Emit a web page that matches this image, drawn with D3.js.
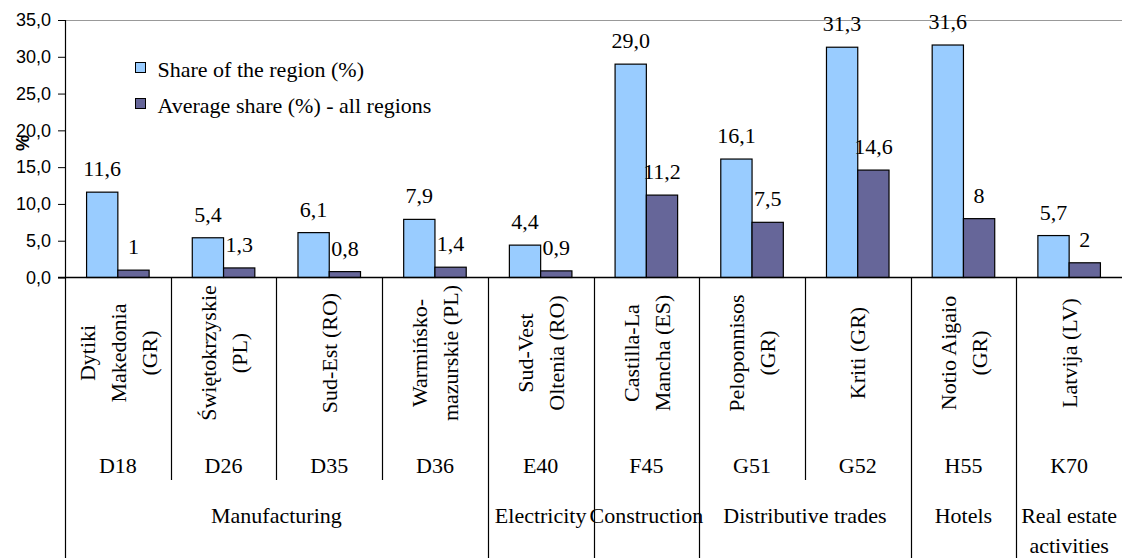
<!DOCTYPE html>
<html>
<head>
<meta charset="utf-8">
<script src="https://cdn.jsdelivr.net/npm/d3@7"></script>
<style>
  html, body { margin: 0; padding: 0; background: #fff; }
  svg { display: block; }
</style>
</head>
<body>
<svg id="chart" width="1122" height="558"></svg>
<script>
// NACE codes, one per column
const codes = ["D18", "D26", "D35", "D36", "E40", "F45", "G51", "G52", "H55", "K70"];
// Region names, split into the lines they wrap to
const regions = [
  ["Dytiki", "Makedonia", "(GR)"],
  ["Świętokrzyskie", "(PL)"],
  ["Sud-Est (RO)"],
  ["Warmińsko-", "mazurskie (PL)"],
  ["Sud-Vest", "Oltenia (RO)"],
  ["Castilla-La", "Mancha (ES)"],
  ["Peloponnisos", "(GR)"],
  ["Kriti (GR)"],
  ["Notio Aigaio", "(GR)"],
  ["Latvija (LV)"]
];
// Sector each column belongs to
const sectors = ["Manufacturing", "Manufacturing", "Manufacturing", "Manufacturing",
  "Electricity", "Construction", "Distributive trades", "Distributive trades",
  "Hotels", "Real estate activities"];
// Sector captions, split into lines
const sectorLines = {
  "Real estate activities": ["Real estate", "activities"]
};
// Series values (%)
const regionShare = [11.6, 5.4, 6.1, 7.9, 4.4, 29.0, 16.1, 31.3, 31.6, 5.7];
const averageShare = [1, 1.3, 0.8, 1.4, 0.9, 11.2, 7.5, 14.6, 8, 2];
const seriesNames = ["Share of the region (%)", "Average share (%) - all regions"];
const seriesColors = ["#99CCFF", "#666699"];
const yTicks = [0, 5, 10, 15, 20, 25, 30, 35];

(function () {
const SERIF = "'Liberation Serif', 'DejaVu Serif', 'Noto Serif', serif";
const SANS = "'Liberation Sans', Arial, sans-serif";
const comma = s => s.replace(".", ",");
const fmtShare = v => comma(v.toFixed(1));
const fmtAvg = v => comma(String(v));

const svg = d3.select("#chart");
const plotL = 65, plotR = 1122, plotT = 20, base = 277.5, tableB = 558;

const serifText = sel => sel.style("font-family", SERIF).style("font-size", "22px").attr("fill", "#000");

const x = d3.scaleBand().domain(codes).range([plotL, plotR]).paddingInner(0).paddingOuter(0);
const xs = d3.scaleBand().domain([0, 1]).range([0, x.bandwidth()]).paddingInner(0).paddingOuter(0.69);
const y = d3.scaleLinear().domain([0, 35]).range([base, plotT]);

// plot area top border
svg.append("line")
  .attr("x1", plotL).attr("x2", plotR).attr("y1", plotT + 0.5).attr("y2", plotT + 0.5)
  .attr("stroke", "#999").attr("stroke-width", 1.2);

// y axis
const yAxis = d3.axisLeft(y).tickValues(yTicks).tickSize(7).tickPadding(7)
  .tickFormat(d => comma(d.toFixed(1)));
const gy = svg.append("g").attr("transform", `translate(${plotL},0)`).call(yAxis);
gy.select(".domain").remove();
gy.selectAll(".tick line").attr("stroke", "#000");
gy.selectAll(".tick text").style("font-family", SANS).style("font-size", "18px").attr("fill", "#000");

// bars
const rows = codes.map((c, i) => ({ code: c, vals: [regionShare[i], averageShare[i]] }));
const groups = svg.append("g").selectAll("g").data(rows).join("g")
  .attr("transform", d => `translate(${x(d.code)},0)`);

groups.selectAll("rect").data(d => d.vals.map((v, k) => ({ v, k }))).join("rect")
  .attr("x", d => xs(d.k))
  .attr("width", xs.bandwidth())
  .attr("y", d => y(d.v))
  .attr("height", d => base - y(d.v))
  .attr("fill", d => seriesColors[d.k])
  .attr("stroke", "#000").attr("stroke-width", 1.2);

groups.selectAll("text.val").data(d => d.vals.map((v, k) => ({ v, k }))).join("text")
  .attr("class", "val")
  .attr("x", d => xs(d.k) + xs.bandwidth() / 2)
  .attr("y", d => y(d.v) - 16)
  .attr("text-anchor", "middle")
  .call(serifText)
  .text(d => d.k === 0 ? fmtShare(d.v) : fmtAvg(d.v));

// left axis line, running down through the label table
svg.append("line").attr("x1", plotL + 0.5).attr("x2", plotL + 0.5)
  .attr("y1", plotT).attr("y2", tableB).attr("stroke", "#000").attr("stroke-width", 1.2);

// baseline
svg.append("line").attr("x1", plotL - 7).attr("x2", plotR).attr("y1", base).attr("y2", base)
  .attr("stroke", "#000").attr("stroke-width", 1.5);

// column dividers in the label table: full height at sector boundaries
codes.forEach((c, i) => {
  if (i === 0) return;
  const xx = Math.round(x(c)) + 0.5;
  const sectorEdge = sectors[i] !== sectors[i - 1];
  svg.append("line").attr("x1", xx).attr("x2", xx)
    .attr("y1", base).attr("y2", sectorEdge ? tableB : 480)
    .attr("stroke", "#000").attr("stroke-width", 1.2);
});

// rotated region names
const lineGap = 31;
codes.forEach((c, i) => {
  const cx = x(c) + x.bandwidth() / 2;
  const lines = regions[i];
  lines.forEach((t, j) => {
    const lx = cx + (j - (lines.length - 1) / 2) * lineGap;
    svg.append("text")
      .attr("transform", `translate(${lx},353) rotate(-90)`)
      .attr("text-anchor", "middle").attr("dy", "0.35em")
      .call(serifText)
      .text(t);
  });
  svg.append("text")
    .attr("x", cx).attr("y", 473).attr("text-anchor", "middle")
    .call(serifText).text(c);
});

// sector captions centred on their span of columns
const spans = [];
sectors.forEach((s, i) => {
  if (i > 0 && sectors[i - 1] === s) spans[spans.length - 1].end = i;
  else spans.push({ name: s, start: i, end: i });
});
spans.forEach(sp => {
  const x0 = x(codes[sp.start]);
  const x1 = x(codes[sp.end]) + x.bandwidth();
  const lines = sectorLines[sp.name] || [sp.name];
  lines.forEach((t, j) => {
    svg.append("text")
      .attr("x", (x0 + x1) / 2).attr("y", 523 + j * 30)
      .attr("text-anchor", "middle").call(serifText).text(t);
  });
});

// y axis title
svg.append("text")
  .attr("transform", "translate(23,143) rotate(-90)")
  .attr("text-anchor", "middle").attr("dy", "0.35em")
  .style("font-family", SANS).style("font-size", "18px").style("font-weight", "bold")
  .attr("fill", "#000").text("%");

// legend
const legend = svg.append("g").selectAll("g").data(seriesNames).join("g")
  .attr("transform", (d, i) => `translate(135.5,${62.5 + i * 36})`);
legend.append("rect").attr("width", 10).attr("height", 10)
  .attr("fill", (d, i) => seriesColors[i]).attr("stroke", "#000").attr("stroke-width", 1);
legend.append("text")
  .attr("x", 22).attr("y", 14.5).call(serifText).text(d => d);
})();
</script>
</body>
</html>
